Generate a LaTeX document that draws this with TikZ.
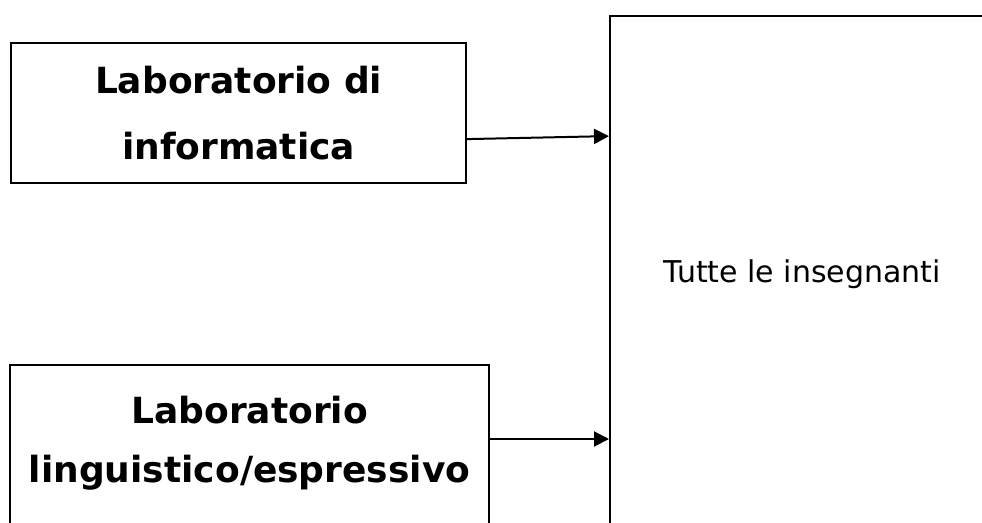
\documentclass[tikz,border=0pt]{standalone}
\usepackage{fontspec}
\setmainfont{DejaVu Sans}
\usetikzlibrary{positioning,arrows.meta}

\tikzset{
  labbox/.style={draw, line width=2.2pt, inner sep=0pt, anchor=north west},
  labtext/.style={align=center, inner sep=0pt, font=\bfseries\fontsize{36}{66}\selectfont},
  link/.style={line width=2pt, -{Triangle[length=15pt,width=15pt]}}
}

\begin{document}
\begin{tikzpicture}[x=1pt, y={(0pt,-1pt)}]
  %FRAME
  \useasboundingbox (0,0) rectangle (982,522);
  \clip (0,0) rectangle (982,522);

  %BOXES
  \node[labbox, labtext, minimum width=455pt, minimum height=140pt] (lab1) at (10,42)
    {Laboratorio di\\informatica};
  \node[labbox, minimum width=479pt, minimum height=200pt] (lab2) at (9,364) {};
  \node[labtext, font=\bfseries\fontsize{36}{59}\selectfont, anchor=north, below=32pt of lab2.north] (lab2text)
    {Laboratorio\\linguistico/espressivo};
  \node[labbox, minimum width=384pt, minimum height=516pt,
        font=\fontsize{30}{36}\selectfont] (staff) at (609,15) {Tutte le insegnanti};

  %ARROWS
  \draw[link] ([yshift=-26pt]lab1.east) -- ([yshift=-23pt]lab1.east -| staff.west);
  \draw[link] ([yshift=-75pt]lab2.north east) -- ([yshift=-75pt]lab2.north east -| staff.west);
\end{tikzpicture}
\end{document}
